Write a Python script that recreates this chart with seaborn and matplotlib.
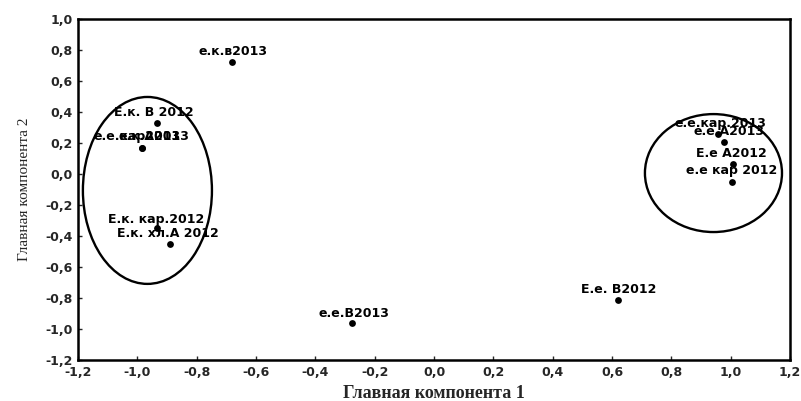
import matplotlib
matplotlib.use("Agg")
import matplotlib.pyplot as plt
from matplotlib.patches import Ellipse
from matplotlib.ticker import FuncFormatter, MultipleLocator
import seaborn as sns
import pandas as pd

# ---- data ----
labels = ["е.к.в2013", "Е.к. В 2012", "е.е.кар2013", "е.к.А2013", "Е.к. кар.2012",
          "Е.к. хл.А 2012", "е.е.В2013", "Е.е. В2012", "е.е.кар.2013", "е.е.А2013",
          "Е.е А2012", "е.е кар 2012"]
pc1 = [-0.68, -0.935, -0.985, -0.983, -0.935, -0.89, -0.277, 0.62, 0.957, 0.977, 1.008, 1.004]
pc2 = [0.72, 0.33, 0.17, 0.17, -0.35, -0.45, -0.96, -0.81, 0.26, 0.205, 0.065, -0.05]

# group ellipses: (center x, center y, width, height) in data units
ellipse_left = (-0.966, -0.106, 0.435, 1.206)
ellipse_right = (0.942, 0.006, 0.462, 0.761)

# label offsets in pixels (dx, dy)
label_offsets = [(1, 11), (-3, 10), (-5, 11), (12, 11), (0, 9), (-2, 10),
                 (2, 9), (1, 10), (3, 10), (5, 11), (-2, 10), (0, 11)]

df = pd.DataFrame({"pc1": pc1, "pc2": pc2, "label": labels})

sns.set_style("white")
plt.rcParams["font.family"] = ["DejaVu Sans"]

fig = plt.figure(figsize=(8.01, 4.01), dpi=100)
ax = fig.add_axes([78 / 801, 1 - 360 / 401, (790 - 78) / 801, (360 - 19) / 401])

sns.scatterplot(data=df, x="pc1", y="pc2", ax=ax, color="black", s=24,
                edgecolor="black", linewidth=0, zorder=3, legend=False)

px2pt = 72 / 100
for (x, y, t), (dx, dy) in zip(zip(pc1, pc2, labels), label_offsets):
    ax.annotate(t, (x, y), xytext=(dx * px2pt, dy * px2pt), textcoords="offset points",
                ha="center", va="center", fontsize=9, fontweight="bold", color="black")

for cx, cy, w, h in (ellipse_left, ellipse_right):
    ax.add_patch(Ellipse((cx, cy), w, h, fill=False, edgecolor="black", linewidth=1.7, zorder=2))

ax.set_xlim(-1.2, 1.2)
ax.set_ylim(-1.2, 1.0)
ax.xaxis.set_major_locator(MultipleLocator(0.2))
ax.yaxis.set_major_locator(MultipleLocator(0.2))
fmt = FuncFormatter(lambda v, p: ("%.1f" % (0.0 if abs(v) < 1e-9 else v)).replace(".", ",").replace("\u2212", "-"))
ax.xaxis.set_major_formatter(fmt)
ax.yaxis.set_major_formatter(fmt)
ax.tick_params(axis="both", direction="in", length=3, width=1, labelsize=9, pad=4,
               bottom=True, left=True)
for lab in ax.get_xticklabels() + ax.get_yticklabels():
    lab.set_fontweight("bold")
for sp in ax.spines.values():
    sp.set_linewidth(1.8)
    sp.set_color("black")

ax.set_xlabel("Главная компонента 1", fontsize=13, fontweight="bold",
              family=["Liberation Serif", "DejaVu Serif"], labelpad=5)
ax.set_ylabel("Главная компонента 2", fontsize=11,
              family=["Liberation Serif", "DejaVu Serif"], labelpad=10)

fig.savefig("out.png", dpi=100)
